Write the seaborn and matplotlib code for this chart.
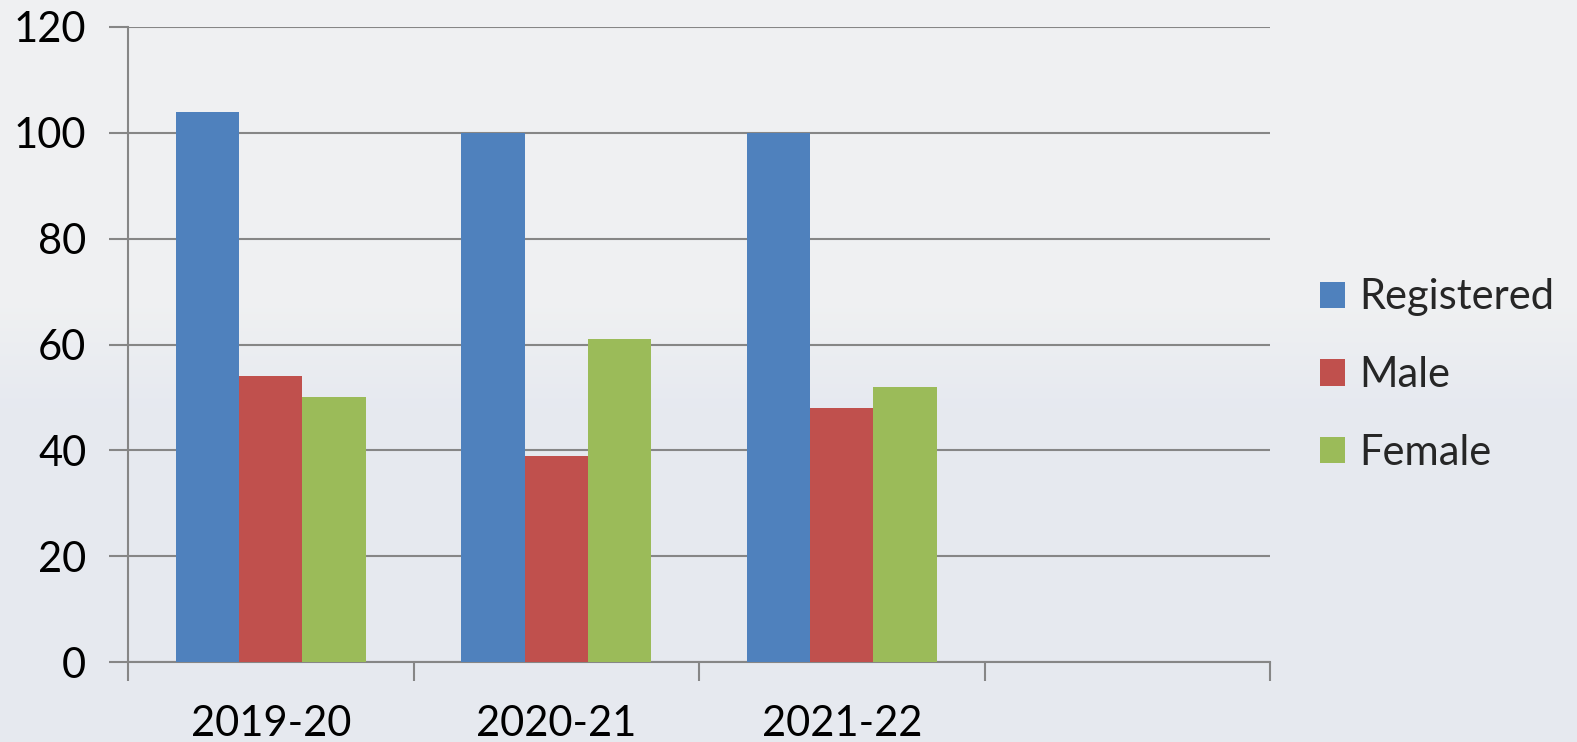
import numpy as np
import pandas as pd
import seaborn as sns
import matplotlib.pyplot as plt
from matplotlib.patches import Patch

# data
years = ["2019-20", "2020-21", "2021-22"]
registered = [104, 100, 100]
male = [54, 39, 48]
female = [50, 61, 52]
series = ["Registered", "Male", "Female"]
colors = ["#4f81bd", "#c0504d", "#9bbb59"]
yticks = [0, 20, 40, 60, 80, 100, 120]

df = pd.DataFrame({
    "year": years * 3,
    "series": ["Registered"] * 3 + ["Male"] * 3 + ["Female"] * 3,
    "value": registered + male + female,
})

sns.set_style("white")
plt.rcParams["font.family"] = ["Lato", "DejaVu Sans"]

fig = plt.figure(figsize=(15.77, 7.42), dpi=100)
fig.patch.set_facecolor("#e6e9f0")

# background: lighter band at the top fading into the plain colour
bg = fig.add_axes([0, 0, 1, 1], zorder=-10)
h = 742
grad = np.ones((h, 1, 3))
top = np.array([0.94, 0.945, 0.95])
bottom = np.array([0.902, 0.914, 0.941])
for i in range(h):
    t = min(max((i - 300) / 110.0, 0.0), 1.0)
    grad[i, 0, :] = top * (1 - t) + bottom * t
bg.imshow(grad, aspect="auto", extent=[0, 1, 0, 1], origin="upper")
bg.set_axis_off()

ax = fig.add_axes([128 / 1577, 1 - 662 / 742, (1270 - 128) / 1577, (662 - 27) / 742])
ax.set_facecolor("none")

order = years + ["_empty"]
sns.barplot(data=df, x="year", y="value", hue="series", order=order,
            hue_order=series, palette=colors, width=0.667, gap=0,
            saturation=1, linewidth=0, ax=ax, legend=False, zorder=3)

ax.set_xlim(-0.5, 3.5)
ax.set_ylim(0, 120)
ax.set_yticks(yticks)
ax.set_xlabel("")
ax.set_ylabel("")

gridc = "#868686"
ax.grid(axis="y", color=gridc, linewidth=1.5, zorder=0)
ax.set_axisbelow(True)
for s in ["top", "right"]:
    ax.spines[s].set_visible(False)
for s in ["left", "bottom"]:
    ax.spines[s].set_color(gridc)
    ax.spines[s].set_linewidth(1.5)

# tick marks at slot boundaries, labels at slot centres
ax.set_xticks([-0.5, 0.5, 1.5, 2.5, 3.5])
ax.set_xticklabels([])
ax.set_xticks([0, 1, 2], minor=True)
ax.set_xticklabels(years, minor=True)
ax.tick_params(axis="x", which="major", bottom=True, length=14, width=1.5,
               color=gridc, direction="out")
ax.tick_params(axis="x", which="minor", bottom=True, length=0, pad=31,
               labelsize=30, labelcolor="black")
ax.tick_params(axis="y", left=True, length=14, width=1.5, color=gridc,
               direction="out", pad=16, labelsize=30, labelcolor="black")

handles = [Patch(facecolor=c, edgecolor="none") for c in colors]
fig.legend(handles, series, loc="center left", bbox_to_anchor=(1303 / 1577, 1 - 375 / 742),
           frameon=False, fontsize=30, handlelength=0.6, handleheight=0.6,
           handletextpad=0.35, labelspacing=0.95, borderaxespad=0)

fig.savefig("out.png", dpi=100, facecolor=fig.get_facecolor())
